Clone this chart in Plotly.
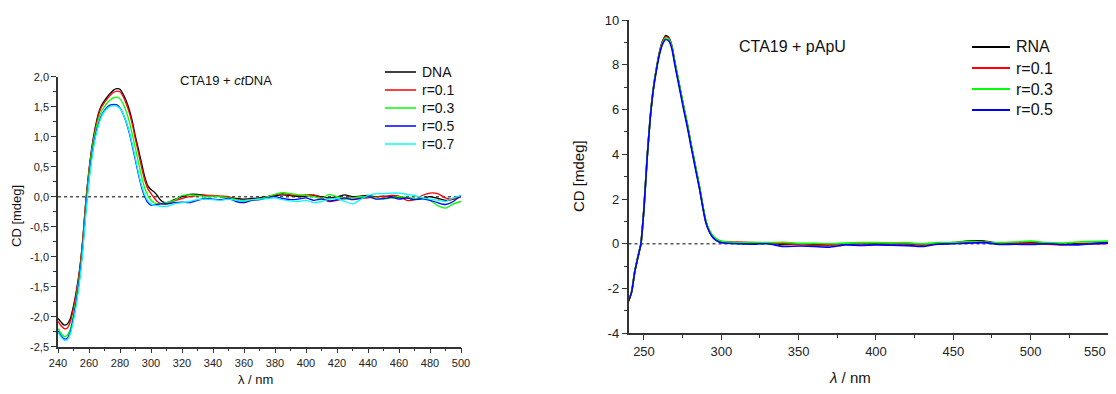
import plotly.graph_objects as go

# ---------------- Left panel: CTA19 + ctDNA ----------------
wl_left = [240, 242, 244, 246, 248, 250, 252, 254, 256, 258, 260, 262, 264, 266, 268, 270,
           272, 274, 276, 278, 280, 282, 284, 286, 288, 290, 292, 294, 296, 298, 300, 302,
           304, 306, 308, 310,
           315, 320, 325, 330, 335, 340, 345, 350, 355, 360, 365, 370, 375, 380, 385, 390,
           395, 400, 405, 410, 415, 420, 425, 430, 435, 440, 445, 450, 455, 460, 465, 470,
           475, 480, 485, 490, 495, 500]

dna = [-2.03, -2.09, -2.14, -2.12, -2.03, -1.82, -1.55, -1.20, -0.70, -0.05, 0.45, 0.85, 1.15, 1.38, 1.52, 1.60,
       1.67, 1.73, 1.78, 1.80, 1.79, 1.71, 1.60, 1.45, 1.25, 1.00, 0.78, 0.55, 0.33, 0.18, 0.12, 0.08,
       0.02, -0.05, -0.09, -0.10,
       -0.05, 0.00, 0.04, 0.04, 0.02, 0.01, 0.00, -0.01, -0.03, -0.04, -0.03, -0.02, 0.00, 0.02, 0.03, 0.02,
       0.00, 0.01, 0.02, 0.00, -0.02, 0.00, 0.03, 0.00, 0.01, 0.02, 0.00, 0.01, 0.00, -0.02, -0.02, -0.04,
       -0.03, 0.00, -0.03, -0.06, -0.04, 0.02]

r01 = [-2.08, -2.15, -2.20, -2.19, -2.08, -1.86, -1.57, -1.22, -0.72, -0.07, 0.43, 0.83, 1.12, 1.35, 1.49, 1.57,
       1.64, 1.70, 1.74, 1.76, 1.75, 1.67, 1.55, 1.40, 1.20, 0.95, 0.72, 0.48, 0.27, 0.13, 0.05, -0.02,
       -0.08, -0.11, -0.12, -0.12,
       -0.07, -0.03, 0.00, 0.02, 0.02, 0.02, 0.01, 0.00, -0.05, -0.07, -0.05, -0.04, 0.00, 0.03, 0.05, 0.03,
       0.02, 0.03, 0.03, -0.02, -0.08, -0.06, -0.03, -0.02, -0.03, -0.02, 0.00, 0.00, 0.02, 0.01, -0.06, -0.05,
       0.02, 0.06, 0.05, -0.02, -0.04, 0.00]

r03 = [-2.20, -2.28, -2.33, -2.31, -2.20, -1.97, -1.66, -1.30, -0.80, -0.15, 0.38, 0.78, 1.07, 1.28, 1.42, 1.50,
       1.57, 1.62, 1.65, 1.66, 1.63, 1.55, 1.42, 1.25, 1.03, 0.80, 0.56, 0.33, 0.14, 0.02, -0.06, -0.10,
       -0.12, -0.12, -0.11, -0.10,
       -0.06, 0.02, 0.03, 0.02, 0.00, 0.01, 0.00, -0.02, -0.05, -0.08, -0.06, -0.04, 0.00, 0.04, 0.07, 0.05,
       0.03, 0.02, 0.00, -0.03, 0.04, 0.00, -0.04, -0.02, 0.00, 0.00, -0.02, -0.04, -0.02, 0.00, -0.01, -0.03,
       -0.04, -0.06, -0.15, -0.19, -0.12, -0.08]

r05 = [-2.24, -2.32, -2.37, -2.36, -2.25, -2.02, -1.72, -1.35, -0.85, -0.22, 0.30, 0.70, 1.00, 1.20, 1.35, 1.44,
       1.50, 1.53, 1.54, 1.53, 1.48, 1.38, 1.24, 1.06, 0.84, 0.60, 0.36, 0.15, 0.00, -0.10, -0.14, -0.14,
       -0.13, -0.12, -0.12, -0.12,
       -0.10, -0.09, -0.10, -0.06, -0.03, -0.04, -0.05, -0.03, -0.08, -0.10, -0.06, -0.05, -0.02, 0.00, -0.03, -0.05,
       -0.04, -0.02, -0.06, -0.04, -0.07, -0.05, -0.02, -0.05, -0.03, 0.00, -0.04, -0.03, -0.01, -0.04, -0.02, -0.05,
       -0.03, -0.06, -0.10, -0.13, -0.08, 0.02]

r07 = [-2.26, -2.34, -2.39, -2.38, -2.28, -2.06, -1.77, -1.40, -0.90, -0.28, 0.26, 0.66, 0.97, 1.18, 1.33, 1.42,
       1.48, 1.51, 1.52, 1.51, 1.47, 1.38, 1.25, 1.08, 0.87, 0.63, 0.39, 0.18, 0.03, -0.07, -0.12, -0.14,
       -0.15, -0.16, -0.16, -0.16,
       -0.12, -0.10, -0.08, -0.05, -0.04, -0.05, -0.06, -0.04, -0.06, -0.07, -0.05, -0.04, -0.03, -0.02, -0.05, -0.07,
       -0.08, -0.06, -0.10, -0.08, -0.04, -0.03, -0.08, -0.12, -0.05, 0.02, 0.05, 0.05, 0.06, 0.06, 0.04, 0.02,
       -0.02, -0.04, -0.06, -0.08, -0.02, 0.02]

left_names = ["DNA", "r=0.1", "r=0.3", "r=0.5", "r=0.7"]
left_series = [dna, r01, r03, r05, r07]
left_colors = ["#000000", "#ff0000", "#00ff00", "#0000ff", "#00ffff"]
left_xrange = [240, 500]
left_yrange = [-2.5, 2.0]
left_xticks = [240, 260, 280, 300, 320, 340, 360, 380, 400, 420, 440, 460, 480, 500]
left_yticks = [2.0, 1.5, 1.0, 0.5, 0.0, -0.5, -1.0, -1.5, -2.0, -2.5]
left_yticktext = ["2,0", "1,5", "1,0", "0,5", "0,0", "-0,5", "-1,0", "-1,5", "-2,0", "-2,5"]

# ---------------- Right panel: CTA19 + pApU ----------------
wl_right = [240, 242, 244, 246, 248, 250, 252, 254, 256, 258, 260, 262, 264, 266, 268, 270,
            272, 274, 276, 278, 280, 282, 284, 286, 288, 290, 292, 294, 296, 298, 300,
            310, 320, 330, 340, 350, 360, 370, 380, 390, 400, 410, 420, 430, 440, 450, 460,
            470, 480, 490, 500, 510, 520, 530, 540, 550]

rna = [-2.56, -2.15, -1.25, -0.60, 0.00, 1.60, 3.80, 5.60, 6.90, 7.80, 8.55, 9.05, 9.30, 9.22, 8.85, 8.10,
       7.40, 6.70, 6.00, 5.35, 4.60, 3.90, 3.20, 2.50, 1.70, 1.00, 0.62, 0.38, 0.24, 0.15, 0.10,
       0.03, 0.02, 0.03, -0.03, 0.00, -0.03, -0.05, 0.00, 0.02, 0.02, 0.02, 0.00, -0.05, 0.02, 0.05, 0.12,
       0.12, 0.00, 0.02, 0.05, 0.02, -0.03, 0.00, 0.02, 0.05]

p01 = [-2.56, -2.15, -1.26, -0.61, 0.00, 1.60, 3.80, 5.60, 6.90, 7.80, 8.53, 9.02, 9.25, 9.18, 8.82, 8.08,
       7.38, 6.68, 5.98, 5.33, 4.58, 3.88, 3.18, 2.48, 1.68, 0.98, 0.60, 0.36, 0.22, 0.14, 0.09,
       0.08, 0.05, 0.03, 0.02, -0.03, -0.08, -0.06, -0.02, 0.00, -0.02, 0.00, 0.02, -0.03, 0.00, 0.03, 0.08,
       0.08, 0.00, 0.03, 0.02, -0.02, -0.05, -0.02, 0.00, 0.02]

p03 = [-2.55, -2.14, -1.25, -0.60, 0.00, 1.60, 3.80, 5.60, 6.90, 7.80, 8.50, 8.98, 9.20, 9.15, 8.82, 8.10,
       7.42, 6.72, 6.03, 5.38, 4.63, 3.93, 3.23, 2.53, 1.73, 1.03, 0.65, 0.40, 0.26, 0.17, 0.12,
       0.05, 0.06, 0.05, 0.07, 0.02, 0.02, 0.00, 0.03, 0.05, 0.05, 0.04, 0.05, 0.00, 0.05, 0.06, 0.10,
       0.08, 0.05, 0.08, 0.12, 0.05, 0.03, 0.08, 0.10, 0.12]

p05 = [-2.57, -2.17, -1.28, -0.63, -0.02, 1.57, 3.76, 5.56, 6.85, 7.74, 8.46, 8.92, 9.13, 9.07, 8.72, 7.98,
       7.28, 6.58, 5.88, 5.23, 4.50, 3.80, 3.10, 2.42, 1.63, 0.95, 0.57, 0.33, 0.19, 0.10, 0.05,
       0.00, -0.02, 0.00, -0.12, -0.10, -0.12, -0.15, -0.05, -0.07, -0.05, -0.06, -0.08, -0.12, -0.02, 0.00, 0.03,
       0.05, -0.03, -0.02, -0.03, 0.00, -0.03, -0.05, 0.00, 0.03]

right_names = ["RNA", "r=0.1", "r=0.3", "r=0.5"]
right_series = [rna, p01, p03, p05]
right_colors = ["#000000", "#ff0000", "#00ff00", "#0000ff"]
right_xrange = [240, 550]
right_yrange = [-4, 10]
right_xticks = [250, 300, 350, 400, 450, 500, 550]
right_xticktext = ["250", "300", "350", "400", "450", "500", ""]
right_last_label = "550"   # drawn right-aligned at the canvas edge so it is not clipped
right_yticks = [-4, -2, 0, 2, 4, 6, 8, 10]
right_yticktext = ["-4", "-2", "0", "2", "4", "6", "8", "10"]

# The page body keeps an 8 px margin, so the figure canvas is 1100x378 placed at (8, 8).
OFF = 8
W, H = 1100, 378
FONT = "Liberation Sans, Arial, sans-serif"
AX = "#333333"


def px(x):
    return (x - OFF) / W


def py(y):
    return 1 - (y - OFF) / H


fig = go.Figure()

for name, ys, col in zip(left_names, left_series, left_colors):
    fig.add_trace(go.Scatter(x=wl_left, y=ys, name=name, mode="lines",
                             line=dict(color=col, width=1.3, shape="spline", smoothing=0.6),
                             xaxis="x", yaxis="y", showlegend=False))

for name, ys, col in zip(right_names, right_series, right_colors):
    fig.add_trace(go.Scatter(x=wl_right, y=ys, name=name, mode="lines",
                             line=dict(color=col, width=1.6, shape="spline", smoothing=0.6),
                             xaxis="x2", yaxis="y2", showlegend=False))

axis_common = dict(showline=True, linecolor=AX, linewidth=1.5, ticks="outside", ticklen=5,
                   tickwidth=1.2, tickcolor=AX, showgrid=False, zeroline=False, mirror=False,
                   automargin=False, ticklabeloverflow="allow")

fig.update_layout(
    width=W, height=H, autosize=False,
    margin=dict(l=0, r=0, t=0, b=0, pad=0, autoexpand=False),
    paper_bgcolor="white", plot_bgcolor="white",
    font=dict(family=FONT, color="#111111"),
    showlegend=False,
    xaxis=dict(domain=[px(58), px(461)], range=left_xrange, anchor="y",
               tickvals=left_xticks, tickfont=dict(size=11, family=FONT, color="#222222"),
               minor=dict(ticks="outside", ticklen=3, dtick=10, tickcolor=AX, tickwidth=1),
               **axis_common),
    yaxis=dict(domain=[py(346.7), py(76.7)], range=left_yrange, anchor="x",
               tickvals=left_yticks, ticktext=left_yticktext,
               tickfont=dict(size=11, family=FONT, color="#222222"),
               minor=dict(ticks="outside", ticklen=3, dtick=0.25, tickcolor=AX, tickwidth=1),
               **axis_common),
    xaxis2=dict(domain=[px(628.5), px(1108)], range=right_xrange, anchor="y2",
                tickvals=right_xticks, ticktext=right_xticktext,
                tickfont=dict(size=13, family=FONT, color="#222222"),
                minor=dict(ticks="outside", ticklen=3, dtick=25, tick0=250, tickcolor=AX, tickwidth=1),
                **axis_common),
    yaxis2=dict(domain=[py(333.3), py(20)], range=right_yrange, anchor="x2",
                tickvals=right_yticks, ticktext=right_yticktext,
                tickfont=dict(size=13, family=FONT, color="#222222"),
                minor=dict(ticks="outside", ticklen=3, dtick=1, tickcolor=AX, tickwidth=1),
                **axis_common),
)

# last right x tick label, kept inside the canvas
fig.add_annotation(text=right_last_label, xref="paper", yref="paper", x=1.0, y=py(351.5),
                   xanchor="right", yanchor="middle", showarrow=False,
                   font=dict(size=13, family=FONT, color="#222222"))

# dotted zero lines
fig.add_shape(type="line", xref="x", yref="y", x0=left_xrange[0], x1=left_xrange[1], y0=0, y1=0,
              line=dict(color="#555555", width=1.5, dash="dot"), layer="below")
fig.add_shape(type="line", xref="x2", yref="y2", x0=right_xrange[0], x1=right_xrange[1], y0=0, y1=0,
              line=dict(color="#555555", width=1.5, dash="dot"), layer="below")


def add_legend(names, colors, x_line, line_len, y_first, step, size, width):
    for i, (nm, col) in enumerate(zip(names, colors)):
        yy = y_first + i * step
        fig.add_shape(type="line", xref="paper", yref="paper",
                      x0=px(x_line), x1=px(x_line + line_len), y0=py(yy), y1=py(yy),
                      line=dict(color=col, width=width))
        fig.add_annotation(text=nm, xref="paper", yref="paper", x=px(x_line + line_len + 4), y=py(yy),
                           xanchor="left", yanchor="middle", showarrow=False,
                           font=dict(size=size, family=FONT, color="#111111"))


add_legend(left_names, left_colors, 385, 31, 72, 18, 14, 1.5)
add_legend(right_names, right_colors, 972, 38, 47, 21, 16, 1.8)

ann = [
    dict(text="CTA19 + <i>ct</i>DNA", x=px(178), y=py(80), xanchor="left", yanchor="middle",
         font=dict(size=13)),
    dict(text="CTA19 + pApU", x=px(737), y=py(46.7), xanchor="left", yanchor="middle",
         font=dict(size=16)),
    dict(text="CD [mdeg]", x=px(16), y=py(216), textangle=-90, xanchor="center", yanchor="middle",
         font=dict(size=13)),
    dict(text="λ / nm", x=px(255), y=py(379), xanchor="center", yanchor="middle",
         font=dict(size=13)),
    dict(text="CD [mdeg]", x=px(578), y=py(176), textangle=-90, xanchor="center", yanchor="middle",
         font=dict(size=15)),
    dict(text="<i>λ</i> / nm", x=px(850), y=py(377), xanchor="center", yanchor="middle",
         font=dict(size=15)),
]
for a in ann:
    a.update(xref="paper", yref="paper", showarrow=False)
    a["font"].update(family=FONT, color="#111111")
    fig.add_annotation(**a)

fig.write_html("out.html")
